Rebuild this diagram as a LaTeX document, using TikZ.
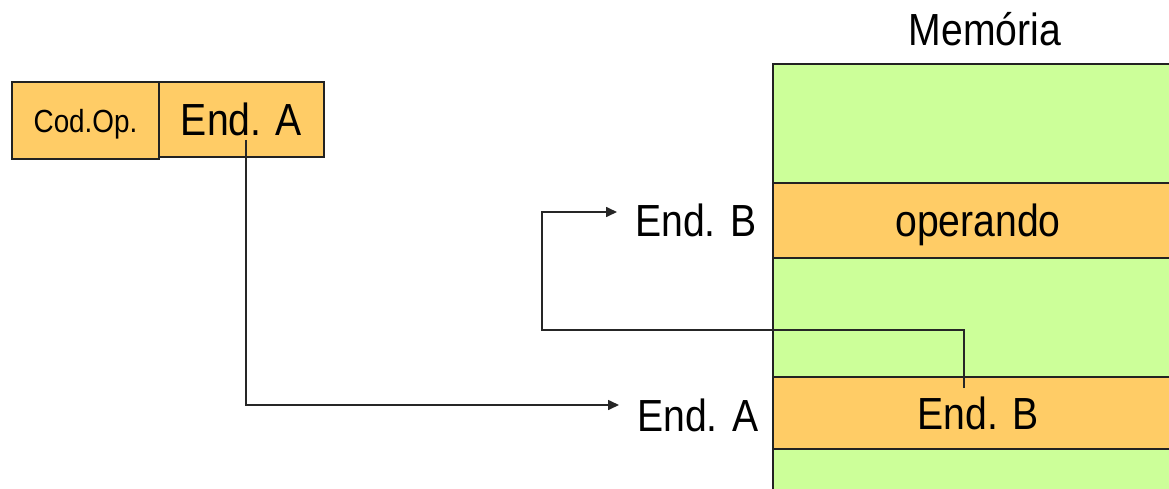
\documentclass[tikz,border=0pt]{standalone}
\usepackage{fontspec}
\setmainfont{Liberation Sans}[FakeStretch=0.87]
\usetikzlibrary{arrows.meta}
\definecolor{cellorange}{HTML}{FFCC66}
\definecolor{cellgreen}{HTML}{CCFF99}
\definecolor{edge}{HTML}{222222}
\definecolor{wire}{HTML}{262626}
\begin{document}
\begin{tikzpicture}[x=1pt,y=-1pt,
  cell/.style={draw=edge,line width=2pt,inner sep=0pt,anchor=north west,
    text depth=0pt,font=\fontsize{45}{50}\selectfont},
  ocell/.style={cell,fill=cellorange},
  gcell/.style={cell,fill=cellgreen},
  label/.style={anchor=west,inner xsep=18pt,inner ysep=0pt,
    font=\fontsize{45}{50}\selectfont},
  conn/.style={draw=wire,line width=1.6pt,
    -{Triangle[length=11pt,width=10pt]}}]
\useasboundingbox (0,0) rectangle (1169,489);
\clip (0,0) rectangle (1169,489);

% instruction word
\node[ocell,minimum width=147pt,minimum height=77pt,
  font=\fontsize{32}{36}\selectfont] (cop) at (11,81) {Cod.Op.};
\node[ocell,minimum width=165pt,minimum height=75pt] (ea) at (158,81) {End. A};

% memory column
\node[font=\fontsize{45}{50}\selectfont] (mem) at (985,29) {Memória};
\node[gcell,minimum width=410pt,minimum height=119pt] (m1) at (772,63) {};
\node[ocell,minimum width=410pt,minimum height=75pt] (m2) at (772,182) {operando};
\node[gcell,minimum width=410pt,minimum height=119pt] (m3) at (772,257) {};
\node[ocell,minimum width=410pt,minimum height=72pt] (m4) at (772,376) {End. B};
\node[gcell,minimum width=410pt,minimum height=80pt] (m5) at (772,448) {};

% address labels beside memory
\node[label] (lblB) at (617,220) {End. B};
\node[label] (lblA) at (619,415) {End. A};

% indirection links
\coordinate (pA) at (246,140);
\coordinate (pB) at (964,388);
\coordinate (bend) at (542,330);
\draw[conn] (pA) |- ([yshift=10pt]lblA.west);
\draw[conn] (pB) |- (bend) |- ([yshift=8pt]lblB.west);
\end{tikzpicture}
\end{document}
